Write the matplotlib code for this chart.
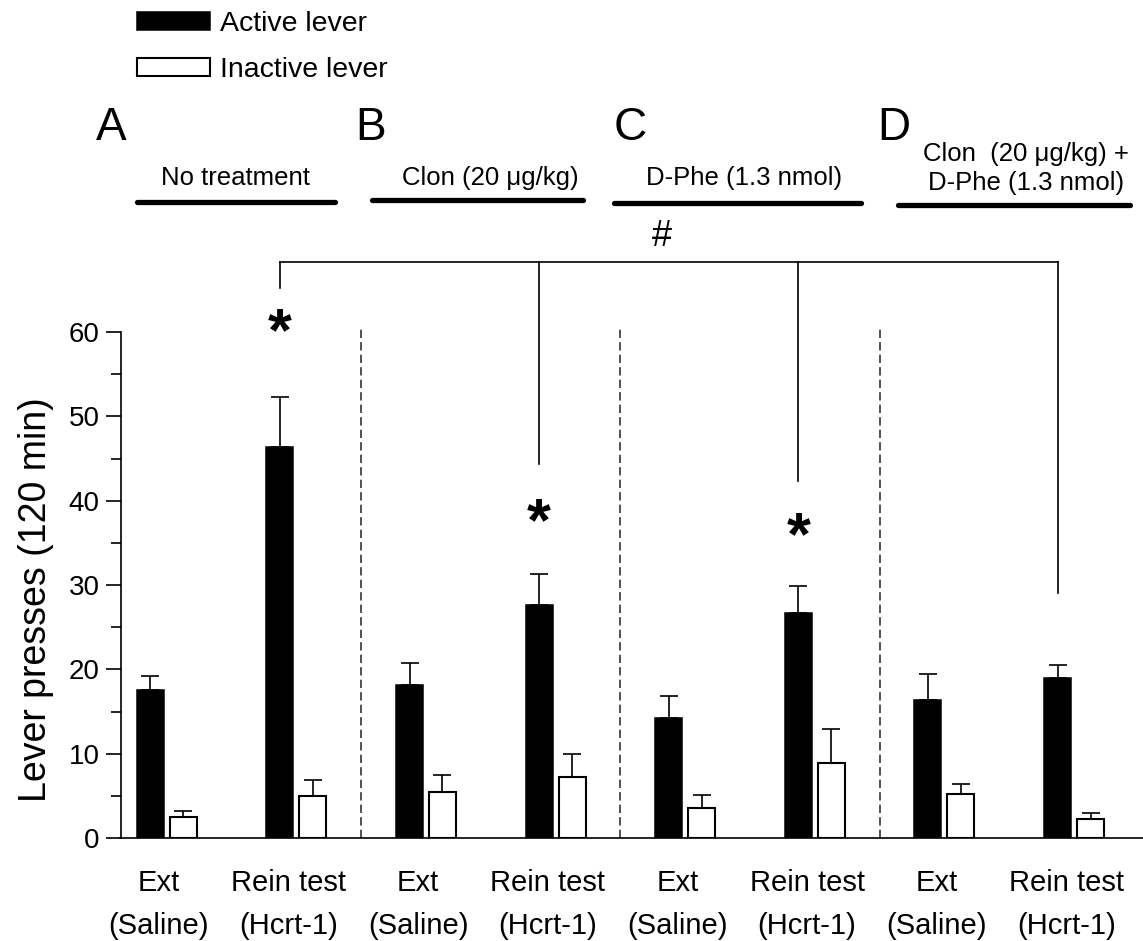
import matplotlib

matplotlib.use("Agg")

import matplotlib.pyplot as plt
import numpy as np

plt.rcParams["font.family"] = ["Liberation Sans", "DejaVu Sans"]

# lever presses per session, mean and upper SEM
categories = ["Ext\n(Saline)", "Rein test\n(Hcrt-1)"] * 4
active_mean = [17.5, 46.4, 18.2, 27.6, 14.2, 26.7, 16.4, 19.0]
active_sem = [1.7, 5.9, 2.5, 3.7, 2.6, 3.2, 3.0, 1.5]
inactive_mean = [2.5, 5.0, 5.4, 7.2, 3.5, 8.9, 5.2, 2.3]
inactive_sem = [0.7, 1.9, 2.1, 2.8, 1.6, 4.0, 1.2, 0.7]

panel_letters = ["A", "B", "C", "D"]
treatments = [
    "No treatment",
    "Clon (20 \u03bcg/kg)",
    "D-Phe (1.3 nmol)",
    "Clon  (20 \u03bcg/kg) +\nD-Phe (1.3 nmol)",
]
# significance marks (asterisk heights) and the '#' bracket drop ends
star_heights = [60.9, 38.4, 36.7]
bracket_drops = [65.2, 44.3, 42.3, 29.1]

x = np.arange(len(categories), dtype=float)
offset = 0.127
width = 0.208

fig = plt.figure(figsize=(11.43, 9.41), dpi=100)
ax = fig.add_axes([120.5 / 1143, 103 / 941, 1022.5 / 1143, 838 / 941])

err_kw = dict(ecolor="black", elinewidth=1.2, capsize=6.5, capthick=1.2)
active = ax.bar(
    x - offset,
    active_mean,
    width,
    yerr=[np.zeros(len(x)), active_sem],
    color="black",
    edgecolor="black",
    linewidth=1.1,
    error_kw=err_kw,
    label="Active lever",
)
inactive = ax.bar(
    x + offset,
    inactive_mean,
    width,
    yerr=[np.zeros(len(x)), inactive_sem],
    color="white",
    edgecolor="black",
    linewidth=1.5,
    error_kw=err_kw,
    label="Inactive lever",
)

# dashed separators between the four panels
ax.vlines(
    [1.5, 3.5, 5.5], 0, 60.5, colors="#333333", linestyles=(0, (5, 2.5)), linewidth=1.2
)

ax.set_xlim(-0.357, 7.532)
ax.set_ylim(0, 99.37)
ax.spines["top"].set_visible(False)
ax.spines["right"].set_visible(False)
ax.spines["left"].set_bounds(0, 60)
ax.spines["left"].set_linewidth(1.2)
ax.spines["bottom"].set_linewidth(1.2)

ax.set_yticks(np.arange(0, 61, 10))
ax.set_yticks(np.arange(5, 60, 10), minor=True)
ax.tick_params(axis="y", which="major", length=11, width=1.2, labelsize=20, pad=4)
ax.tick_params(axis="y", which="minor", length=7, width=1.2)
ax.set_xticks(x - 0.06, categories)
ax.tick_params(axis="x", length=0, labelsize=21, pad=22)
for label in ax.get_xticklabels():
    label.set_linespacing(1.7)

ax.set_ylabel("Lever presses (120 min)", fontsize=27, ha="center", va="center")
ax.yaxis.set_label_coords((36 - 120.5) / 1022.5, (838 - 600) / 838)

# treatment headers
header_lines = [(-0.230, 1.298, 75.4), (1.583, 3.211, 75.7), (3.451, 5.356, 75.3), (5.642, 7.432, 75.1)]
letter_x = [-0.43, 1.569, 3.574, 5.61]
text_x = [0.527, 2.494, 4.454, 6.63]
for k in range(4):
    x0, x1, yl = header_lines[k]
    ax.plot([x0, x1], [yl, yl], color="black", linewidth=3.8, solid_capstyle="round")
    ax.text(letter_x[k], 84.2, panel_letters[k], fontsize=33, ha="center", va="center")
    if k < 3:
        ax.text(text_x[k], 78.3, treatments[k], fontsize=18.5, ha="center", va="center")
    else:
        ax.text(text_x[k], 79.4, treatments[k], fontsize=18.5, ha="center",
                va="center", linespacing=1.25)

# '#' comparison bracket
rein_x = x[1::2] - offset
bracket_top = 68.3
ax.plot([rein_x[0], rein_x[-1]], [bracket_top, bracket_top], color="black", linewidth=1.2)
for xi, yb in zip(rein_x, bracket_drops):
    ax.plot([xi, xi], [bracket_top, yb], color="black", linewidth=1.2)
ax.text(3.822, 71.3, "#", fontsize=26, ha="center", va="center")

for xi, ys in zip(rein_x[:3], star_heights):
    ax.text(xi, ys - 3.1, "*", fontsize=44, fontweight="bold", ha="center", va="baseline")

fig.legend(
    handles=[active, inactive],
    labels=["Active lever", "Inactive lever"],
    loc="upper left",
    bbox_to_anchor=(137 / 1143, 1 - 11 / 941),
    frameon=False,
    borderpad=0,
    borderaxespad=0,
    handlelength=2.55,
    handleheight=0.6,
    handletextpad=0.35,
    labelspacing=0.7,
    fontsize=20.5,
)

fig.savefig("out.png", dpi=100)
